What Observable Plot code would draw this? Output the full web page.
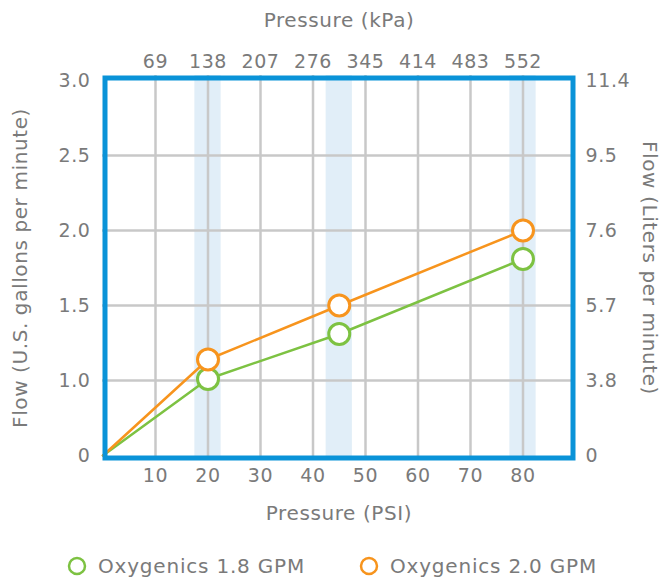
<!DOCTYPE html>
<html>
<head>
<meta charset="utf-8">
<script src="https://cdn.jsdelivr.net/npm/d3@7"></script>
<script src="https://cdn.jsdelivr.net/npm/@observablehq/plot@0.6"></script>
<style>
  html, body { margin: 0; padding: 0; background: #fff; }
  #chart { width: 670px; }
  .legend { position: relative; height: 43px; font-family: "DejaVu Sans", sans-serif; font-size: 20px; letter-spacing: 0.8px; color: #7a7a7a; }
  .legend .item { position: absolute; top: 19px; display: flex; align-items: center; }
  .legend svg { margin-right: 11px; }
</style>
</head>
<body>
<div id="chart"></div>
<script>
// Data
const pressurePsi = [0, 20, 45, 80];
const flow18 = [0, 1.01, 1.31, 1.81];   // Oxygenics 1.8 GPM
const flow20 = [0, 1.14, 1.5, 2.0];     // Oxygenics 2.0 GPM
const seriesNames = ["Oxygenics 1.8 GPM", "Oxygenics 2.0 GPM"];
const seriesColors = ["#7dc242", "#f7941d"];
const bandCenters = [20, 45, 80];

const psiTicks = [10, 20, 30, 40, 50, 60, 70, 80];
const kpaLabels = ["69", "138", "207", "276", "345", "414", "483", "552"];
const gpmTicks = [0, 1, 1.5, 2, 2.5, 3];
const gpmLabels = ["0", "1.0", "1.5", "2.0", "2.5", "3.0"];
const lpmLabels = ["0", "3.8", "5.7", "7.6", "9.5", "11.4"];
const gridY = [1, 1.5, 2, 2.5];

const rows = [];
pressurePsi.forEach((p, i) => {
  rows.push({series: seriesNames[0], psi: p, flow: flow18[i]});
  rows.push({series: seriesNames[1], psi: p, flow: flow20[i]});
});

const W = 670, H = 535;
const mTop = 75, mBottom = 75, mLeft = 102, mRight = 95;
const blue = "#0a93d8";
const grey = "#7a7a7a";

// The reference's flow axis is broken: the 0 → 1.0 span takes the same room as one 0.5 step.
const brokenFlow = v => (v <= 1 ? 0.5 + 0.5 * v : v);

const chart = Plot.plot({
  width: W,
  height: H,
  marginTop: mTop,
  marginBottom: mBottom,
  marginLeft: mLeft,
  marginRight: mRight,
  style: {fontFamily: "DejaVu Sans, sans-serif", fontSize: "19px", color: grey, background: "#fff", letterSpacing: "0.6px"},
  x: {domain: [0, 90], range: [mLeft + 0.5, W - mRight]},
  y: {transform: brokenFlow, domain: [0.5, 3], range: [H - mBottom - 5, mTop + 5]},
  color: {domain: seriesNames, range: seriesColors},
  marks: [
    Plot.rect(bandCenters, {x1: d => d - 2.5, x2: d => d + 2.5, fill: "#e1eef8"}),
    Plot.ruleX(psiTicks, {stroke: "#c8c8c8", strokeWidth: 2.5}),
    Plot.ruleY(gridY, {stroke: "#c8c8c8", strokeWidth: 2.5}),
    Plot.line(rows, {x: "psi", y: "flow", stroke: "series", strokeWidth: 2.5}),
    Plot.frame({stroke: blue, strokeWidth: 5, inset: 2.5}),
    Plot.dot(rows.filter(d => d.psi > 0), {x: "psi", y: "flow", stroke: "series", fill: "white", r: 10.5, strokeWidth: 3}),
    Plot.axisX(psiTicks, {anchor: "bottom", tickSize: 0, tickPadding: 8, label: null, tickFormat: d => String(d)}),
    Plot.axisX(psiTicks, {anchor: "top", tickSize: 0, tickPadding: 8, label: null, tickFormat: d => kpaLabels[psiTicks.indexOf(d)]}),
    Plot.axisY(gpmTicks, {anchor: "left", tickSize: 0, tickPadding: 12, label: null, tickFormat: d => gpmLabels[gpmTicks.indexOf(d)]}),
    Plot.axisY(gpmTicks, {anchor: "right", tickSize: 0, tickPadding: 10, label: null, tickFormat: d => lpmLabels[gpmTicks.indexOf(d)]}),
    Plot.text(["Pressure (kPa)"], {frameAnchor: "top", dy: -55, lineAnchor: "middle", textAnchor: "middle", text: d => d, fill: grey, fontSize: 20}),
    Plot.text(["Pressure (PSI)"], {frameAnchor: "bottom", dy: 53, lineAnchor: "middle", textAnchor: "middle", text: d => d, fill: grey, fontSize: 20}),
    Plot.text(["Flow (U.S. gallons per minute)"], {frameAnchor: "left", dx: -82, rotate: -90, lineAnchor: "middle", textAnchor: "middle", text: d => d, fill: grey, fontSize: 20}),
    Plot.text(["Flow (Liters per minute)"], {frameAnchor: "right", dx: 74, rotate: 90, lineAnchor: "middle", textAnchor: "middle", text: d => d, fill: grey, fontSize: 20})
  ]
});
document.getElementById("chart").appendChild(chart);

// Legend below the SVG
const legend = document.createElement("div");
legend.className = "legend";
const legendX = [67, 359];
seriesNames.forEach((name, i) => {
  const item = document.createElement("div");
  item.className = "item";
  item.style.left = legendX[i] + "px";
  item.innerHTML = `<svg width="20" height="20"><circle cx="10" cy="10" r="8" fill="white" stroke="${seriesColors[i]}" stroke-width="2.5"/></svg><span>${name}</span>`;
  legend.appendChild(item);
});
document.body.appendChild(legend);
</script>
</body>
</html>
